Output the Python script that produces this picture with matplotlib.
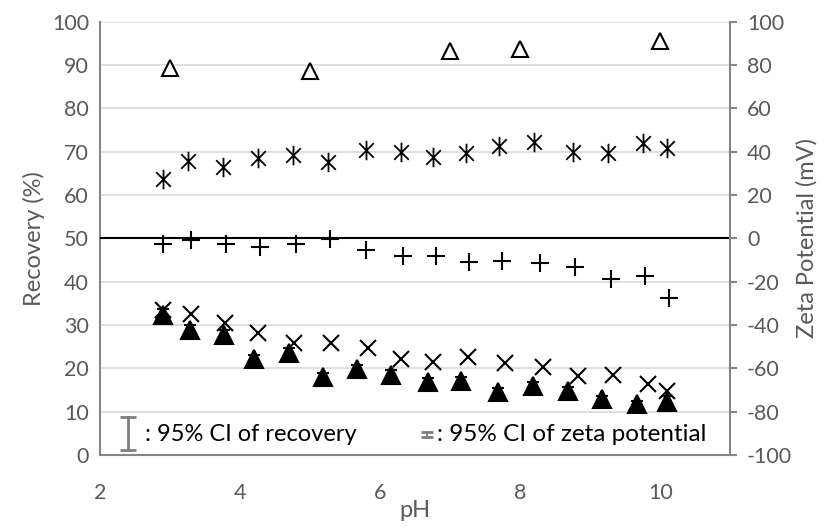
import numpy as np
import matplotlib.pyplot as plt
from matplotlib.path import Path

plt.rcParams['font.family'] = ['Lato', 'DejaVu Sans']
plt.rcParams['axes.unicode_minus'] = False

# recovery (%) - open triangles
ph_rec1 = [3, 5, 7, 8, 10]
rec1 = [89.2, 88.7, 93.3, 93.8, 95.5]

# recovery (%) - filled triangles, with 95% CI
ph_rec2 = [2.9, 3.28, 3.77, 4.2, 4.7, 5.19, 5.67, 6.16, 6.69, 7.15, 7.68, 8.18, 8.68, 9.17, 9.67, 10.1]
rec2 = [32.3, 28.9, 27.6, 22.1, 23.5, 18.0, 19.8, 18.5, 16.8, 17.1, 14.6, 15.9, 14.7, 12.8, 11.7, 12.3]
rec2_ci = [1.5, 1.2, 1.2, 1.0, 1.2, 0.9, 1.0, 1.0, 1.0, 0.9, 0.8, 0.9, 1.0, 0.8, 0.8, 1.2]

# zeta potential (mV) - asterisks
ph_zeta1 = [2.9, 3.25, 3.75, 4.25, 4.75, 5.25, 5.8, 6.3, 6.75, 7.22, 7.7, 8.2, 8.75, 9.25, 9.75, 10.1]
zeta1 = [27.2, 35.8, 32.8, 37.0, 38.4, 35.4, 40.8, 40.0, 37.4, 39.6, 42.4, 44.6, 40.0, 39.2, 43.8, 41.6]

# zeta potential (mV) - plus
ph_zeta2 = [2.9, 3.3, 3.8, 4.29, 4.8, 5.29, 5.8, 6.33, 6.8, 7.27, 7.74, 8.29, 8.79, 9.29, 9.78, 10.12]
zeta2 = [-2.8, -1.0, -2.8, -4.2, -2.6, -0.4, -5.6, -8.0, -8.2, -10.8, -10.4, -11.6, -13.4, -18.8, -17.4, -27.5]

# zeta potential (mV) - x
ph_zeta3 = [2.9, 3.3, 3.79, 4.26, 4.77, 5.3, 5.82, 6.3, 6.76, 7.26, 7.78, 8.33, 8.83, 9.33, 9.83, 10.1]
zeta3 = [-33.0, -35.0, -39.2, -43.8, -48.2, -48.4, -50.8, -55.8, -57.0, -54.6, -57.6, -59.6, -63.6, -63.0, -67.2, -70.4]

gray = '#595959'
spine_gray = '#868686'

# asterisk marker: x with a vertical bar
star = Path([(-0.75, -0.75), (0.75, 0.75), (-0.75, 0.75), (0.75, -0.75), (0, -1), (0, 1)],
            [Path.MOVETO, Path.LINETO, Path.MOVETO, Path.LINETO, Path.MOVETO, Path.LINETO])

fig = plt.figure(figsize=(8.27, 5.29), dpi=100)
ax = fig.add_axes([0.121, 0.140, 0.762, 0.819])
ax2 = ax.twinx()

ax.set_xlim(2, 11)
ax.set_ylim(0, 100)
ax2.set_ylim(-100, 100)
ax.set_xticks([2, 4, 6, 8, 10])
ax.set_yticks(np.arange(0, 101, 10))
ax2.set_yticks(np.arange(-100, 101, 20))

ax.yaxis.grid(True, color='#d9d9d9', linewidth=1.2)
ax.set_axisbelow(True)

for s in ['top', 'right']:
    ax.spines[s].set_visible(False)
for s in ['top', 'left', 'bottom']:
    ax2.spines[s].set_visible(False)
for sp in [ax.spines['left'], ax.spines['bottom'], ax2.spines['right']]:
    sp.set_color(spine_gray)
    sp.set_linewidth(1.5)

ax.tick_params(axis='y', length=0, labelsize=15.5, labelcolor=gray, pad=8)
ax.tick_params(axis='x', length=0, labelsize=15.5, labelcolor=gray, pad=20)
ax2.tick_params(axis='y', length=5, width=1.5, color=spine_gray, labelsize=15.5, labelcolor=gray, pad=7)

ax.set_xlabel('pH', fontsize=17, color=gray, labelpad=-2)
ax.set_ylabel('Recovery (%)', fontsize=17, color=gray, labelpad=5)
ax2.set_ylabel('Zeta Potential (mV)', fontsize=17, color=gray, labelpad=3)

# zeta = 0 line
ax2.axhline(0, color='black', linewidth=1.5, zorder=1)

ax.errorbar(ph_rec2, rec2, yerr=rec2_ci, fmt='^', color='black', ms=13, mew=1.5,
            ecolor='black', elinewidth=2, capsize=4, capthick=2, zorder=3)
ax.plot(ph_rec1, rec1, '^', ms=11, mfc='white', mec='black', mew=1.5, zorder=3)

ax2.plot(ph_zeta1, zeta1, ls='none', marker=star, ms=14, mec='black', mew=1.3, zorder=4)
ax2.plot(ph_zeta2, zeta2, '+', ms=13, mec='black', mew=1.5, zorder=4)
ax2.plot(ph_zeta3, zeta3, 'x', ms=11, mec='black', mew=1.5, zorder=4)

# CI key at the bottom
ax.plot([0.044, 0.044], [0.012, 0.088], color='#7f7f7f', lw=2, transform=ax.transAxes, clip_on=False)
ax.plot([0.044, 0.044], [0.012, 0.088], ls='none', marker='_', ms=12, mew=2, mec='#7f7f7f',
        transform=ax.transAxes, clip_on=False)
ax.text(0.072, 0.047, ': 95% CI of recovery', fontsize=17, color='black', va='center', transform=ax.transAxes)

ax.plot([0.519, 0.519], [0.042, 0.052], color='#7f7f7f', lw=1.5, transform=ax.transAxes)
ax.plot([0.519, 0.519], [0.042, 0.052], ls='none', marker='_', ms=9, mew=2, mec='#7f7f7f',
        transform=ax.transAxes)
ax.text(0.535, 0.047, ': 95% CI of zeta potential', fontsize=17.5, color='black', va='center', transform=ax.transAxes)

plt.savefig('out.png', dpi=100)
